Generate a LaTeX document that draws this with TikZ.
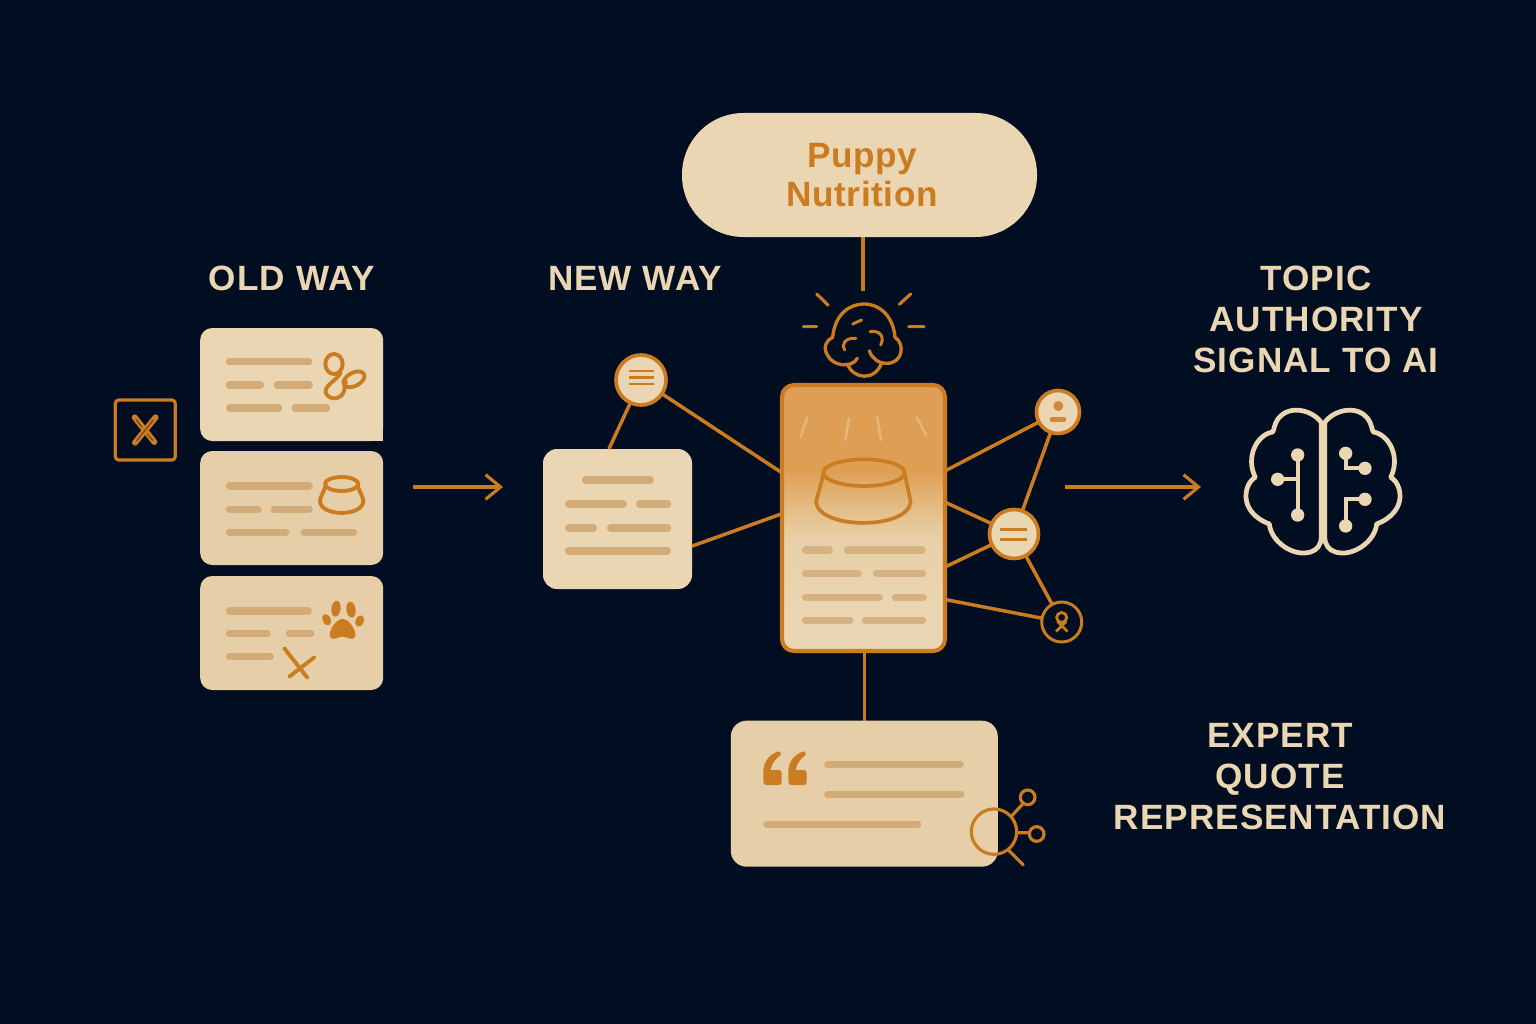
\documentclass[tikz,border=0pt]{standalone}
\usepackage{fontspec}
\setmainfont{Liberation Sans}
\newfontfamily\headfont[LetterSpace=3]{Liberation Sans}
\newfontfamily\pillfont[LetterSpace=1.7]{Liberation Sans}
\usepackage{tikz}
\usetikzlibrary{positioning, arrows.meta}

\definecolor{nightbg}{HTML}{010D20}
\definecolor{amber}{HTML}{CB7C20}
\definecolor{creamA}{HTML}{EBD6B3}
\definecolor{creamB}{HTML}{E8D0A8}
\definecolor{cardB}{HTML}{E6CFA8}
\definecolor{barcol}{HTML}{D2AB78}
\definecolor{phonetop}{HTML}{DE9F55}
\definecolor{phonemid}{HTML}{E5C08C}

\pgfdeclareverticalshading{phoneshade}{100bp}{color(0bp)=(creamA); color(31bp)=(creamA); color(46bp)=(creamB); color(51bp)=(phonemid); color(59bp)=(phonetop); color(75bp)=(phonetop); color(100bp)=(phonetop)}

\tikzset{
    card/.style={rectangle, inner sep=0pt, outer sep=0pt, rounded corners=6.8pt, fill=creamA},
    hubdot/.style={circle, inner sep=0pt, outer sep=0pt, draw=amber, line width=2.1pt, fill=creamA},
    txtbar/.style={line width=4pt, line cap=round, draw=barcol},
    link/.style={draw=amber, line width=2pt},
    icon/.style={draw=amber, line width=2.2pt, line cap=round, line join=round},
    flowarrow/.style={draw=amber, line width=1.8pt, -{Straight Barb[length=8.5pt,width=14pt]}},
    heading/.style={inner sep=0pt, text=creamA, align=center, font=\fontsize{20}{23.3}\selectfont\headfont\bfseries},
}

\begin{document}
\begin{tikzpicture}[x=0.02cm, y=-0.02cm]
    \fill[nightbg] (0,0) rectangle (1536,1024);
    \useasboundingbox (0,0) rectangle (1536,1024);

    \node[card, minimum width=355*0.02cm, minimum height=124*0.02cm, rounded corners=35pt, fill=creamA,
          text=amber, align=center, font=\fontsize{20}{22.3}\selectfont\pillfont\bfseries] (pill) at (859.5,175) {\hspace{3pt}Puppy\\\hspace{3pt}Nutrition};

    \node[heading] (oldhead) at (292,278) {OLD WAY};
    \node[heading] (newhead) at (635,278) {NEW WAY};
    \node[heading] (signalhead) at (1316,319) {TOPIC\\AUTHORITY\\SIGNAL TO AI};
    \node[heading] (experthead) at (1280,777) {EXPERT\\QUOTE\\REPRESENTATION};

    % old way column
    \node[card, minimum width=183*0.02cm, minimum height=113*0.02cm] (oldleash) at (291.7,384.5) {};
    \fill[creamA] (365,425) rectangle (383.2,441);
    \node[card, fill=cardB, minimum width=183*0.02cm, minimum height=114*0.02cm] (oldbowl) at (291.7,508) {};
    \node[card, fill=cardB, minimum width=183*0.02cm, minimum height=114*0.02cm] (oldpaw) at (291.7,633) {};
    \node[rectangle, draw=amber, line width=1.8pt, rounded corners=2pt, minimum size=60*0.02cm, inner sep=0pt] (oldmark) at (145.3,430) {};

    \begin{scope}[shift={(100,320)}, scale=1/3]
        \foreach \xa/\xb/\yy in {378/637/124, 378/492/195, 522/638/195, 378/546/264, 576/690/264,
                                 378/638/498, 378/485/568, 513/638/568, 378/568/637, 602/771/637,
                                 378/635/873, 378/511/941, 558/643/941, 378/521/1009}
            \draw[txtbar] (\xa+10,\yy) -- (\xb-10,\yy);
        \draw[icon] (702,132) ellipse (26 and 30);
        \draw[icon, rotate around={28:(762,178)}] (762,178) ellipse (34 and 20);
        \draw[icon] (722,158) .. controls (712,180) and (675,195) .. (677,215) .. controls (680,238) and (715,242) .. (728,222) .. controls (735,212) and (733,195) .. (738,185);
        \draw[icon] (725,492) ellipse (50 and 21);
        \draw[icon] (677,497) .. controls (670,520) and (660,530) .. (660,545) .. controls (665,590) and (785,590) .. (790,545)
            .. controls (790,530) and (780,520) .. (773,497);
        \fill[amber, rotate around={-8:(708,866)}] (708,866) ellipse (14 and 24);
        \fill[amber, rotate around={8:(753,869)}] (753,869) ellipse (14 and 24);
        \fill[amber, rotate around={25:(680,899)}] (680,899) ellipse (12 and 18);
        \fill[amber, rotate around={-25:(779,903)}] (779,903) ellipse (12 and 18);
        \fill[amber] (728,897) .. controls (750,897) and (770,935) .. (766,950) .. controls (760,965) and (740,950) .. (728,950)
            .. controls (715,950) and (695,965) .. (690,950) .. controls (685,935) and (706,897) .. (728,897);
        \draw[icon] (553,985) -- (622,1073) (643,1012) -- (568,1070);
        \draw[amber, line width=3.4pt, line cap=round] (104,292) -- (163,366) (167,292) -- (105,368);
        \draw[amber!55!nightbg, line width=0.7pt, line cap=round] (108,298) -- (125,320) (142,342) -- (158,361) (160,300) -- (110,362);
    \end{scope}

    % new way note
    \node[card, minimum width=149*0.02cm, minimum height=140*0.02cm, rounded corners=8pt] (note) at (617.5,519) {};
    \foreach \xa/\xb/\yy in {582/654/480, 565/627/504, 636/671/504, 565/597/528, 607/671/528, 565/671/551}
        \draw[txtbar] (\xa+3.5,\yy) -- (\xb-3.5,\yy);
    \node[hubdot, minimum size=50*0.02cm] (notehub) at (641,380) {};
    \foreach \yy in {371,377.5,384}
        \draw[amber, line width=1.4pt] (629,\yy) -- (654,\yy);

    % center page
    \node[card, shade, shading=phoneshade, draw=amber, line width=2.3pt, minimum width=163*0.02cm, minimum height=266*0.02cm] (phone) at (863.5,518) {};
    \begin{scope}[shift={(770,280)}, scale=1/3]
        \foreach \xa/\xb/\yy in {96/188/810, 222/466/810, 96/275/880, 309/468/880, 96/338/952, 366/470/952, 96/250/1021, 276/468/1021}
            \draw[txtbar, barcol!85!creamA] (\xa+10,\yy) -- (\xb-10,\yy);
        \draw[creamA, opacity=0.45, line width=1.4pt, line cap=round] (112,412) -- (92,470) (237,415) -- (226,480) (322,412) -- (333,480) (440,412) -- (468,465);
        \draw[icon, line width=2.1pt] (282,578) ellipse (122 and 40);
        \draw[icon, line width=2.1pt] (160,585) -- (138,665) .. controls (145,750) and (415,750) .. (422,665) -- (405,585);
        \draw[icon, line width=1.8pt] (140,42) -- (175,76) (388,73) -- (422,42) (100,140) -- (140,140) (416,140) -- (462,140);
        \draw[icon, line width=1.9pt] (262,235) .. controls (245,265) and (190,260) .. (172,225) .. controls (158,200) and (170,180) .. (188,172)
            .. controls (195,100) and (240,72) .. (283,72) .. controls (330,72) and (370,110) .. (375,172)
            .. controls (405,190) and (400,250) .. (350,250) .. controls (325,250) and (305,235) .. (298,212);
        \draw[icon, line width=1.9pt] (232,252) .. controls (250,298) and (315,305) .. (335,248);
        \draw[icon, line width=1.7pt] (248,132) -- (275,120);
        \draw[icon, line width=1.7pt] (258,175) .. controls (225,172) and (212,195) .. (224,210);
        \draw[icon, line width=1.7pt] (300,155) .. controls (330,150) and (345,170) .. (332,195);
    \end{scope}

    \coordinate (bulbtop) at (863,291);
    \draw[link] (bulbtop |- pill.south) -- (bulbtop);

    % quote card
    \node[card, fill=cardB, minimum width=267*0.02cm, minimum height=146*0.02cm, rounded corners=9pt] (quote) at (864.3,793.7) {};
    \draw[link] (quote.north |- phone.south) -- (quote.north);
    \begin{scope}[shift={(720,710)}, scale=1/3]
        \foreach \xa/\xb/\yy in {313/731/164, 313/733/253, 130/603/343}
            \draw[txtbar] (\xa+10,\yy) -- (\xb-10,\yy);
        \foreach \dx in {0,75}
            \fill[amber, shift={(\dx,0)}] (172,125) .. controls (148,135) and (130,155) .. (130,185) -- (130,215) .. controls (130,222) and (134,225) .. (140,225)
                -- (176,225) .. controls (182,225) and (185,222) .. (185,215) -- (185,188) .. controls (185,182) and (180,180) .. (175,180) -- (152,180)
                .. controls (155,160) and (168,145) .. (180,137) .. controls (186,130) and (180,122) .. (172,125) -- cycle;
        \draw[icon, line width=1.8pt] (822,365) circle (68);
        \draw[icon, line width=1.8pt] (875,318) -- (908,282) (890,368) -- (925,368) (865,420) -- (910,465);
        \draw[icon, line width=1.8pt] (923,262) circle (22) (950,372) circle (22);
    \end{scope}

    % network
    \node[hubdot, minimum size=43*0.02cm] (persondot) at (1058,412) {};
    \node[hubdot, minimum size=49*0.02cm] (textdot) at (1014,534) {};
    \node[hubdot, fill=nightbg, minimum size=40*0.02cm, line width=1.7pt] (ribbondot) at (1061.7,622) {};
    \fill[amber!85!creamA] (1058.3,406) circle (5);
    \draw[amber!85!creamA, line width=2.6pt, line cap=round] (1052,419.5) -- (1064,419.5);
    \draw[amber, line width=1.5pt] (1000,529.5) -- (1026.7,529.5) (1000,539.5) -- (1026.7,539.5);
    \draw[amber, line width=1.6pt] (1061.7,617.5) circle (5) (1056,631.5) -- (1066,621.5) (1067.5,631.5) -- (1057.5,621.5);

    \draw[link] (notehub) -- (note.97.7);
    \draw[link] (notehub) -- (phone.151.9);
    \draw[link] (note.-20.6) -- (phone.177.9);
    \draw[link] (phone.30.2) -- (persondot);
    \draw[link] (phone.11.7) -- (textdot);
    \draw[link] (phone.-31.2) -- (textdot);
    \draw[link] (phone.-45.9) -- (ribbondot);
    \draw[link] (persondot) -- (textdot);
    \draw[link] (textdot) -- (ribbondot);

    % flow arrows
    \coordinate (oldout) at (413,487);
    \coordinate (newin) at (503,487);
    \coordinate (authout) at (1065,487);
    \coordinate (authin) at (1201,487);
    \draw[flowarrow] (oldout) -- (newin);
    \draw[flowarrow] (authout) -- (authin);

    % ai brain
    \begin{scope}[shift={(1230,400)}, scale=1/3]
        \foreach \sx/\off in {1/0, -1/558}
            \draw[creamA, line width=2.7pt, line join=round, xscale=\sx, shift={(\off*\sx,0)}] (274,68) .. controls (250,32) and (178,10) .. (143,58) .. controls (132,75) and (133,88) .. (128,96)
                .. controls (82,103) and (45,170) .. (76,232) .. controls (42,250) and (22,335) .. (118,372)
                .. controls (123,425) and (190,472) .. (242,456) .. controls (262,450) and (274,432) .. (274,412) -- cycle;
        \draw[creamA, line width=2.2pt] (203,165) -- (203,345) (143,238) -- (203,238);
        \draw[creamA, line width=2.2pt] (347,160) -- (347,205) -- (405,205) (405,298) -- (347,298) -- (347,378);
        \foreach \px/\py in {203/165, 203/345, 143/238, 347/160, 405/205, 405/298, 347/378}
            \fill[creamA] (\px,\py) circle (20);
    \end{scope}
\end{tikzpicture}
\end{document}
